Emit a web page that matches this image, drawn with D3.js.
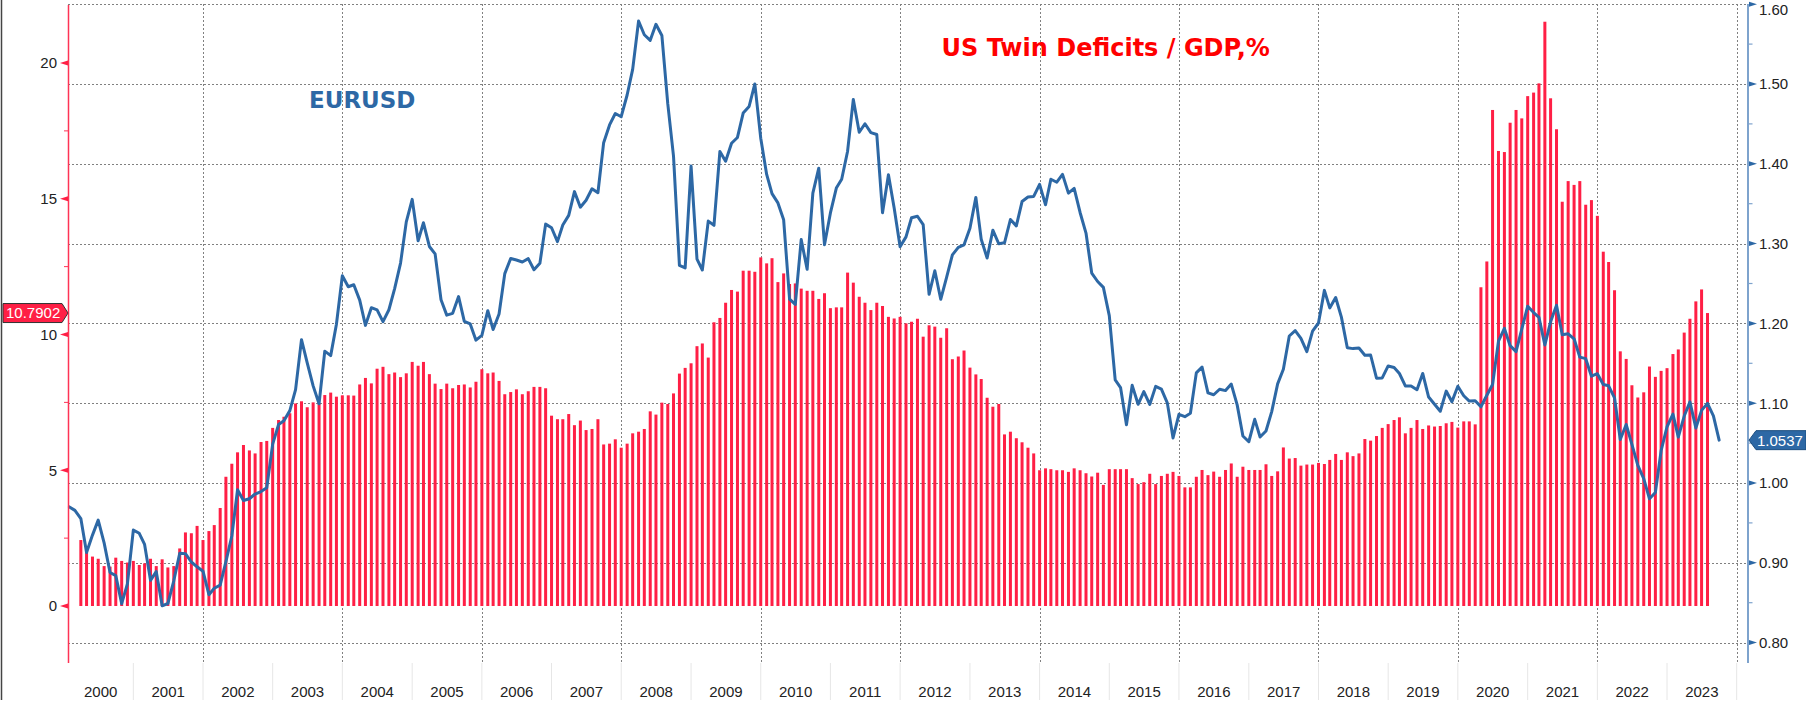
<!DOCTYPE html>
<html>
<head>
<meta charset="utf-8">
<script src="https://cdn.jsdelivr.net/npm/d3@7"></script>
<style>
  html, body { margin: 0; padding: 0; background: #fff; }
  svg { display: block; }
</style>
</head>
<body>
<svg id="chart" width="1806" height="707"></svg>
<script>
// ---------------- DATA ----------------
// EURUSD month-end values, starting Jan 2000
const eurusdStart = [2000, 1];
const eurusd = [
  0.9700, 0.9657, 0.9555, 0.9130, 0.9347, 0.9535, 0.9250, 0.8878, 0.8840, 0.8488, 0.8735, 0.9410,
  0.9370, 0.9230, 0.8780, 0.8890, 0.8461, 0.8490, 0.8775, 0.9120, 0.9115, 0.9010, 0.8950, 0.8895,
  0.8600, 0.8681, 0.8721, 0.9016, 0.9336, 0.9915, 0.9780, 0.9803, 0.9862, 0.9893, 0.9941, 1.0487,
  1.0733, 1.0780, 1.0907, 1.1170, 1.1796, 1.1504, 1.1217, 1.0993, 1.1652, 1.1596, 1.1989, 1.2597,
  1.2459, 1.2484, 1.2292, 1.1975, 1.2197, 1.2170, 1.2022, 1.2171, 1.2436, 1.2756, 1.3272, 1.3554,
  1.3035, 1.3261, 1.2964, 1.2871, 1.2296, 1.2104, 1.2126, 1.2336, 1.2026, 1.1993, 1.1790, 1.1849,
  1.2159, 1.1923, 1.2118, 1.2624, 1.2814, 1.2794, 1.2770, 1.2811, 1.2673, 1.2754, 1.3244, 1.3199,
  1.3025, 1.3232, 1.3354, 1.3651, 1.3456, 1.3543, 1.3687, 1.3637, 1.4265, 1.4487, 1.4630, 1.4590,
  1.4862, 1.5183, 1.5790, 1.5617, 1.5547, 1.5748, 1.5608, 1.4750, 1.4097, 1.2727, 1.2695, 1.3971,
  1.2805, 1.2669, 1.3282, 1.3229, 1.4155, 1.4033, 1.4257, 1.4330, 1.4636, 1.4718, 1.5001, 1.4321,
  1.3867, 1.3626, 1.3510, 1.3298, 1.2304, 1.2238, 1.3051, 1.2678, 1.3633, 1.3945, 1.2985, 1.3384,
  1.3696, 1.3806, 1.4158, 1.4807, 1.4395, 1.4502, 1.4390, 1.4367, 1.3387, 1.3862, 1.3446, 1.2961,
  1.3084, 1.3324, 1.3343, 1.3238, 1.2365, 1.2660, 1.2302, 1.2579, 1.2859, 1.2952, 1.2985, 1.3193,
  1.3579, 1.3055, 1.2819, 1.3168, 1.2998, 1.3010, 1.3302, 1.3222, 1.3527, 1.3584, 1.3591, 1.3743,
  1.3486, 1.3806, 1.3769, 1.3867, 1.3633, 1.3692, 1.3390, 1.3132, 1.2631, 1.2525, 1.2452, 1.2098,
  1.1291, 1.1196, 1.0731, 1.1224, 1.0986, 1.1146, 1.0984, 1.1211, 1.1177, 1.1004, 1.0565, 1.0861,
  1.0831, 1.0873, 1.1380, 1.1454, 1.1130, 1.1106, 1.1175, 1.1158, 1.1240, 1.0979, 1.0589, 1.0517,
  1.0798, 1.0576, 1.0652, 1.0895, 1.1242, 1.1426, 1.1842, 1.1910, 1.1813, 1.1646, 1.1904, 1.2005,
  1.2414, 1.2194, 1.2324, 1.2079, 1.1694, 1.1684, 1.1691, 1.1600, 1.1604, 1.1313, 1.1317, 1.1467,
  1.1448, 1.1372, 1.1217, 1.1215, 1.1168, 1.1373, 1.1077, 1.0987, 1.0899, 1.1152, 1.1018, 1.1213,
  1.1093, 1.1027, 1.1031, 1.0955, 1.1100, 1.1234, 1.1778, 1.1937, 1.1721, 1.1647, 1.1927, 1.2216,
  1.2136, 1.2075, 1.1730, 1.2020, 1.2227, 1.1858, 1.1870, 1.1807, 1.1578, 1.1558, 1.1338, 1.1370,
  1.1235, 1.1218, 1.1067, 1.0545, 1.0733, 1.0484, 1.0220, 1.0054, 0.9802, 0.9882, 1.0405, 1.0705,
  1.0863, 1.0576, 1.0839, 1.1017, 1.0690, 1.0910, 1.0998, 1.0842, 1.0537
];

// US twin deficits / GDP (%), monthly, starting Mar 2000
const deficitStart = [2000, 3];
const deficit = [
  2.43, 2.00, 1.82, 1.74, 1.47, 1.45, 1.78, 1.66, 1.60, 1.66,
  1.51, 1.57, 1.74, 1.47, 1.72, 1.42, 1.47, 2.12, 2.71, 2.68, 2.95, 2.43,
  2.76, 2.98, 3.61, 4.76, 5.24, 5.66, 5.93, 5.73, 5.62, 6.04, 6.08, 6.56,
  6.85, 6.97, 7.10, 7.46, 7.54, 7.32, 7.50, 7.46, 7.77, 7.86, 7.71, 7.76,
  7.76, 7.75, 8.16, 8.40, 8.20, 8.74, 8.81, 8.54, 8.60, 8.43, 8.57, 8.99,
  8.85, 8.99, 8.54, 8.19, 7.99, 8.19, 8.02, 8.14, 8.16, 8.05, 8.26, 8.72,
  8.57, 8.60, 8.29, 7.80, 7.88, 7.98, 7.80, 7.91, 8.07, 8.07, 8.02, 7.01,
  6.88, 6.88, 7.07, 6.66, 6.83, 6.48, 6.52, 6.88, 5.95, 5.98, 6.14, 5.83,
  5.98, 6.36, 6.42, 6.52, 7.17, 7.05, 7.49, 7.44, 7.83, 8.56, 8.77, 8.94,
  9.57, 9.67, 9.15, 10.45, 10.61, 11.17, 11.64, 11.58, 12.35, 12.35, 12.31, 12.84,
  12.62, 12.81, 11.93, 12.25, 11.86, 11.88, 11.69, 11.61, 11.61, 11.31, 11.52, 10.97,
  11.00, 11.00, 12.28, 11.91, 11.39, 11.17, 10.90, 11.17, 11.05, 10.65, 10.59, 10.65,
  10.41, 10.47, 10.58, 9.92, 10.34, 10.29, 9.88, 10.23, 9.09, 9.19, 9.41, 8.78,
  8.53, 8.36, 7.67, 7.34, 7.44, 6.32, 6.42, 6.18, 6.03, 5.83, 5.62, 5.00,
  5.07, 5.04, 5.00, 5.00, 4.94, 5.07, 5.00, 4.89, 4.77, 4.91, 4.46, 5.04,
  5.04, 5.04, 5.04, 4.71, 4.49, 4.56, 4.87, 4.49, 4.79, 4.87, 4.94, 4.79,
  4.37, 4.37, 4.76, 5.01, 4.82, 4.95, 4.76, 5.01, 5.25, 4.76, 5.13, 5.01,
  5.01, 5.01, 5.22, 4.79, 4.96, 5.84, 5.43, 5.45, 5.17, 5.21, 5.21, 5.27,
  5.23, 5.38, 5.60, 5.38, 5.66, 5.52, 5.62, 6.15, 6.09, 6.26, 6.56, 6.70,
  6.85, 6.95, 6.36, 6.56, 6.85, 6.52, 6.65, 6.61, 6.63, 6.73, 6.78, 6.57,
  6.80, 6.80, 6.69, 11.74, 12.69, 18.27, 16.76, 16.72, 17.80, 18.27, 17.96, 18.78,
  18.91, 19.25, 21.52, 18.70, 17.56, 14.89, 15.65, 15.51, 15.65, 14.78, 14.95, 14.37,
  13.05, 12.67, 11.63, 9.38, 9.10, 8.13, 7.68, 7.87, 8.82, 8.44, 8.66, 8.76,
  9.28, 9.45, 10.07, 10.58, 11.22, 11.66, 10.7902
];

const leftTicks = [0, 5, 10, 15, 20];
const leftMinorTicks = [2.5, 7.5, 12.5, 17.5];
const rightTicks = [0.80, 0.90, 1.00, 1.10, 1.20, 1.30, 1.40, 1.50, 1.60];
const rightMinorTicks = [0.85, 0.95, 1.05, 1.15, 1.25, 1.35, 1.45, 1.55];
const yearLabels = [2000, 2001, 2002, 2003, 2004, 2005, 2006, 2007, 2008, 2009, 2010, 2011,
                    2012, 2013, 2014, 2015, 2016, 2017, 2018, 2019, 2020, 2021, 2022, 2023];
const gridYears = [2002, 2004, 2006, 2008, 2010, 2012, 2014, 2016, 2018, 2020, 2022, 2024];
const titleText = "US Twin Deficits / GDP,%";
const lineLabel = "EURUSD";

// ---------------- LAYOUT ----------------
const W = 1806, H = 707;
const plotL = 68, plotR = 1747, plotT = 4, plotB = 663;
const RED = "#ff1f45", BLUE = "#2d68a5";

const svg = d3.select("#chart");
svg.append("rect").attr("width", W).attr("height", H).attr("fill", "#fff");

const monthDate = (y, m) => new Date(Date.UTC(y, m, 1));

const x = d3.scaleUtc()
  .domain([new Date(Date.UTC(2002, 0, 1)), new Date(Date.UTC(2024, 0, 1))])
  .range([203, 1736.7]);
const yL = d3.scaleLinear().domain([0, 20]).range([606, 63]);
const yR = d3.scaleLinear().domain([0.8, 1.6]).range([642.6, 4.2]);

const barData = deficit.map((v, i) => ({ date: monthDate(deficitStart[0], deficitStart[1] + i), v }));
const lineData = eurusd.map((v, i) => ({ date: monthDate(eurusdStart[0], eurusdStart[1] + i), v }));

// left frame line
svg.append("line").attr("x1", 1.5).attr("x2", 1.5).attr("y1", 0).attr("y2", 700)
  .attr("stroke", "#444").attr("stroke-width", 1.5);

// year separators at bottom
const yearStarts = yearLabels.map(y => new Date(Date.UTC(y, 0, 1))).concat([new Date(Date.UTC(2024, 0, 1))]);
svg.append("g").selectAll("line").data(yearStarts.filter(d => x(d) > plotL && x(d) < plotR)).join("line")
  .attr("x1", d => x(d)).attr("x2", d => x(d))
  .attr("y1", plotB).attr("y2", 700)
  .attr("stroke", "#e6e6e6").attr("stroke-width", 1);

// grid
const grid = svg.append("g").attr("stroke", "#808080").attr("stroke-width", 1).attr("stroke-dasharray", "2,2");
grid.selectAll("line.h").data(rightTicks).join("line").attr("class", "h")
  .attr("x1", plotL).attr("x2", plotR)
  .attr("y1", d => Math.round(yR(d)) + 0.5).attr("y2", d => Math.round(yR(d)) + 0.5);
grid.selectAll("line.v").data(gridYears.map(y => new Date(Date.UTC(y, 0, 1)))).join("line").attr("class", "v")
  .attr("x1", d => Math.round(x(d)) + 0.5).attr("x2", d => Math.round(x(d)) + 0.5)
  .attr("y1", plotT).attr("y2", plotB);

// bars
svg.append("g").selectAll("rect").data(barData).join("rect")
  .attr("x", d => x(d.date) - 1.5)
  .attr("width", 3)
  .attr("y", d => yL(d.v))
  .attr("height", d => yL(0) - yL(d.v))
  .attr("fill", RED);

// line
svg.append("path").datum(lineData)
  .attr("fill", "none").attr("stroke", BLUE).attr("stroke-width", 3)
  .attr("stroke-linejoin", "round").attr("stroke-linecap", "round")
  .attr("d", d3.line().x(d => x(d.date)).y(d => yR(d.v)));

// left axis
svg.append("line").attr("x1", plotL + 0.5).attr("x2", plotL + 0.5).attr("y1", plotT + 1).attr("y2", plotB)
  .attr("stroke", "#ff3355").attr("stroke-width", 1.5);
svg.append("g").selectAll("path").data(leftTicks).join("path")
  .attr("d", d => `M${plotL - 8},${yL(d)} L${plotL},${yL(d) - 2.5} L${plotL},${yL(d) + 2.5} Z`)
  .attr("fill", RED);
svg.append("g").selectAll("line").data(leftMinorTicks).join("line")
  .attr("x1", plotL - 4).attr("x2", plotL).attr("y1", d => yL(d)).attr("y2", d => yL(d))
  .attr("stroke", "#ff3355").attr("stroke-width", 1);
svg.append("g").selectAll("text").data(leftTicks).join("text")
  .attr("x", 57).attr("y", d => yL(d)).attr("dy", "0.36em")
  .attr("text-anchor", "end")
  .attr("font-family", "'Liberation Sans', Arial, sans-serif").attr("font-size", 15).attr("fill", "#222")
  .text(d => d3.format("d")(d));

// right axis
svg.append("line").attr("x1", 1748).attr("x2", 1748).attr("y1", plotT).attr("y2", plotB)
  .attr("stroke", "#7ea3cd").attr("stroke-width", 2);
svg.append("g").selectAll("path").data(rightTicks).join("path")
  .attr("d", d => `M1749,${yR(d) - 2.5} L1757,${yR(d)} L1749,${yR(d) + 2.5} Z`)
  .attr("fill", BLUE);
svg.append("g").selectAll("line").data(rightMinorTicks).join("line")
  .attr("x1", 1748).attr("x2", 1752.5).attr("y1", d => yR(d)).attr("y2", d => yR(d))
  .attr("stroke", "#7ea3cd").attr("stroke-width", 1.2);
svg.append("g").selectAll("text").data(rightTicks).join("text")
  .attr("x", 1759).attr("y", d => Math.max(yR(d), 10)).attr("dy", "0.36em")
  .attr("font-family", "'Liberation Sans', Arial, sans-serif").attr("font-size", 15).attr("fill", "#222")
  .text(d => d3.format(".2f")(d));

// year labels
svg.append("g").selectAll("text").data(yearLabels).join("text")
  .attr("x", d => {
    const a = Math.max(plotL, x(new Date(Date.UTC(d, 0, 1))));
    const b = Math.min(plotR, x(new Date(Date.UTC(d + 1, 0, 1))));
    return (a + b) / 2;
  })
  .attr("y", 692).attr("dy", "0.36em").attr("text-anchor", "middle")
  .attr("font-family", "'Liberation Sans', Arial, sans-serif").attr("font-size", 15).attr("fill", "#222")
  .text(d => d);

// titles
svg.append("text").attr("x", 941.5).attr("y", 56)
  .attr("font-family", "'DejaVu Sans', Verdana, sans-serif").attr("font-weight", "bold")
  .attr("font-size", 24).attr("fill", "#ff0000").text(titleText);
svg.append("text").attr("x", 309).attr("y", 108)
  .attr("font-family", "'DejaVu Sans', Verdana, sans-serif").attr("font-weight", "bold")
  .attr("font-size", 23).attr("fill", BLUE).text(lineLabel);

// last value tags
const lastBar = deficit[deficit.length - 1];
const ly = yL(lastBar);
svg.append("path")
  .attr("d", `M3,${ly - 9.5} L62,${ly - 9.5} L68,${ly} L62,${ly + 9.5} L3,${ly + 9.5} Z`)
  .attr("fill", RED).attr("stroke", "#333").attr("stroke-width", 1);
svg.append("text").attr("x", 6).attr("y", ly).attr("dy", "0.36em")
  .attr("font-family", "'Liberation Sans', Arial, sans-serif").attr("font-size", 15).attr("fill", "#fff")
  .text(d3.format(".4f")(lastBar));

const lastFx = eurusd[eurusd.length - 1];
const ry = yR(lastFx);
svg.append("path")
  .attr("d", `M1749,${ry} L1756,${ry - 9.5} L1806,${ry - 9.5} L1806,${ry + 9.5} L1756,${ry + 9.5} Z`)
  .attr("fill", BLUE).attr("stroke", "#1d4f80").attr("stroke-width", 1);
svg.append("text").attr("x", 1757).attr("y", ry).attr("dy", "0.36em")
  .attr("font-family", "'Liberation Sans', Arial, sans-serif").attr("font-size", 15).attr("fill", "#fff")
  .text(d3.format(".4f")(lastFx));
</script>
</body>
</html>
